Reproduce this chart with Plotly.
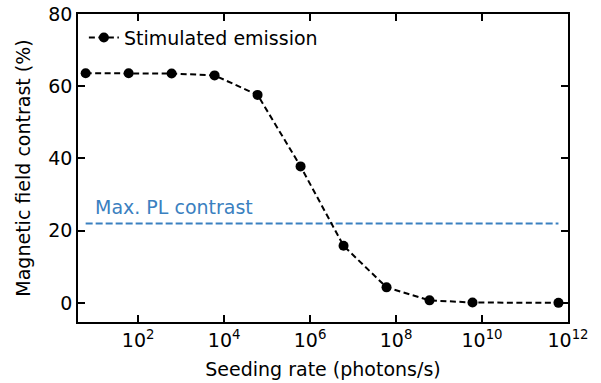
import plotly.graph_objects as go

seeding_rate = [6e0, 6e1, 6e2, 6e3, 6e4, 6e5, 6e6, 6e7, 6e8, 6e9, 6e11]
contrast = [63.6, 63.6, 63.5, 63.0, 57.6, 37.8, 15.8, 4.3, 0.7, 0.1, 0.0]
pl_max = 22.0
pl_x = [6e0, 6e11]
x_tickvals = [1e2, 1e4, 1e6, 1e8, 1e10, 1e12]
x_ticktext = ["10<sup>2</sup>", "10<sup>4</sup>", "10<sup>6</sup>", "10<sup>8</sup>", "10<sup>10</sup>", "10<sup>12</sup>"]
y_tickvals = [0, 20, 40, 60, 80]

blue = "#3a80c0"
font = "DejaVu Sans"
fs = 19

fig = go.Figure()
fig.add_trace(go.Scatter(
    x=pl_x, y=[pl_max, pl_max], mode="lines",
    line=dict(color=blue, width=2, dash="7px,3px"),
    showlegend=False, hoverinfo="skip"))
fig.add_trace(go.Scatter(
    x=seeding_rate, y=contrast, mode="lines+markers",
    name="Stimulated emission",
    line=dict(color="black", width=2, dash="6px,3.5px"),
    marker=dict(color="black", size=10)))

fig.add_annotation(x=0.81, y=pl_max, xref="x", yref="y", text="Max. PL contrast",
                   showarrow=False, xanchor="left", yanchor="bottom", xshift=6, yshift=3,
                   font=dict(family=font, size=fs, color=blue))

axis_common = dict(showline=True, linecolor="black", linewidth=1.5, mirror="ticks",
                   ticks="inside", ticklen=7, tickwidth=1.5, tickcolor="black",
                   showgrid=False, zeroline=False, automargin=False,
                   tickfont=dict(family=font, size=fs, color="black"))

fig.update_layout(
    width=601, height=383,
    margin=dict(l=78, r=33, t=14, b=61),
    paper_bgcolor="white", plot_bgcolor="white",
    font=dict(family=font, size=fs, color="black"),
    xaxis=dict(type="log", range=[0.6, 12], tickvals=x_tickvals, ticktext=x_ticktext,
               title=dict(text="Seeding rate (photons/s)", font=dict(family=font, size=fs), standoff=13),
               **axis_common),
    yaxis=dict(range=[-5.3, 80], tickvals=y_tickvals,
               title=dict(text="Magnetic field contrast (%)", font=dict(family=font, size=fs), standoff=13),
               **axis_common),
    legend=dict(x=0.012, y=0.985, xanchor="left", yanchor="top", bgcolor="rgba(0,0,0,0)",
                font=dict(family=font, size=fs), itemwidth=30),
    showlegend=True,
)

fig.write_html("out.html", config={"displayModeBar": False},
               post_script="document.body.style.margin='0px';document.body.style.overflow='hidden';")
